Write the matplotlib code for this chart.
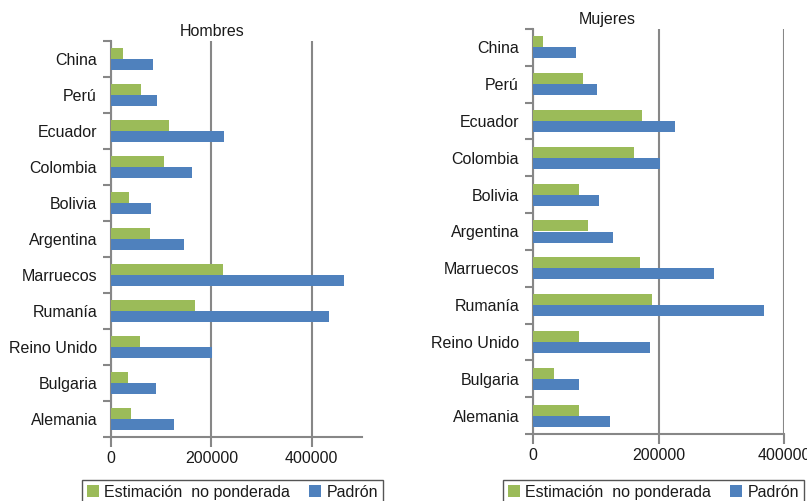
import numpy as np
import matplotlib.pyplot as plt
from matplotlib.patches import Patch

plt.rcParams["font.family"] = ["Liberation Sans", "DejaVu Sans"]

countries = ["China", "Perú", "Ecuador", "Colombia", "Bolivia", "Argentina",
             "Marruecos", "Rumanía", "Reino Unido", "Bulgaria", "Alemania"]

hombres_est = [24000, 60000, 116000, 106000, 36000, 78000,
               224000, 168000, 58000, 34000, 40000]
hombres_pad = [84000, 92000, 226000, 162000, 80000, 146000,
               464000, 434000, 202000, 90000, 126000]

mujeres_est = [16000, 80000, 174000, 161000, 73000, 88000,
               170000, 190000, 73000, 33500, 73000]
mujeres_pad = [68500, 102000, 226000, 202000, 105000, 127000,
               288000, 368000, 186000, 73000, 123000]

xticks = [0, 200000, 400000]

GREEN = "#9BBB59"
BLUE = "#4F81BD"
GRAY = "#878787"
FS = 11.5

W, H = 807, 501


def draw_panel(ax, est, pad, title, xmax, title_x, title_dy):
    y = np.arange(len(countries))
    h = 0.3
    ax.barh(y - h / 2, est, height=h, color=GREEN, zorder=3)
    ax.barh(y + h / 2, pad, height=h, color=BLUE, zorder=3)

    ax.set_ylim(len(countries) - 0.5, -0.5)
    ax.set_xlim(0, xmax)

    ax.set_yticks(y)
    ax.set_yticklabels(countries, fontsize=FS, color="#1a1a1a")
    ax.set_yticks(np.arange(len(countries) + 1) - 0.5, minor=True)
    ax.tick_params(axis="y", which="major", length=0, pad=10)
    ax.tick_params(axis="y", which="minor", length=6, width=1.5, color=GRAY)

    ax.set_xticks(xticks)
    ax.set_xticklabels([str(v) for v in xticks], fontsize=FS, color="#1a1a1a")
    ax.tick_params(axis="x", length=7, width=1.5, color=GRAY, pad=3)

    ax.grid(axis="x", color=GRAY, linewidth=1.5, zorder=0)
    ax.set_axisbelow(True)
    for s in ["top", "right"]:
        ax.spines[s].set_visible(False)
    for s in ["left", "bottom"]:
        ax.spines[s].set_color(GRAY)
        ax.spines[s].set_linewidth(1.5)

    ax.text(title_x, 1.0 + title_dy, title, transform=ax.transAxes,
            ha="center", va="bottom", fontsize=FS, color="#1a1a1a")


fig = plt.figure(figsize=(W / 100, H / 100), dpi=100)

ax1 = fig.add_axes([111 / W, (H - 437) / H, (362 - 111) / W, (437 - 41) / H])
ax2 = fig.add_axes([533 / W, (H - 434) / H, (784 - 533) / W, (434 - 29) / H])

draw_panel(ax1, hombres_est, hombres_pad, "Hombres", 500000, 0.401, 0.005)
draw_panel(ax2, mujeres_est, mujeres_pad, "Mujeres", 400000, 0.295, 0.005)

handles = [Patch(facecolor=GREEN, edgecolor="none"),
           Patch(facecolor=BLUE, edgecolor="none")]
labels = ["Estimación  no ponderada", "Padrón"]

for x0 in (82, 503):
    leg = fig.legend(handles, labels, loc="upper left",
                     bbox_to_anchor=(x0 / W, (H - 480) / H),
                     ncol=2, fontsize=FS, frameon=True, fancybox=False,
                     edgecolor="#555555", framealpha=1,
                     handlelength=0.75, handleheight=0.75, handletextpad=0.35,
                     columnspacing=1.2, borderpad=0.3, borderaxespad=0)
    for t in leg.get_texts():
        t.set_color("#1a1a1a")

fig.savefig("out.png", dpi=100)
